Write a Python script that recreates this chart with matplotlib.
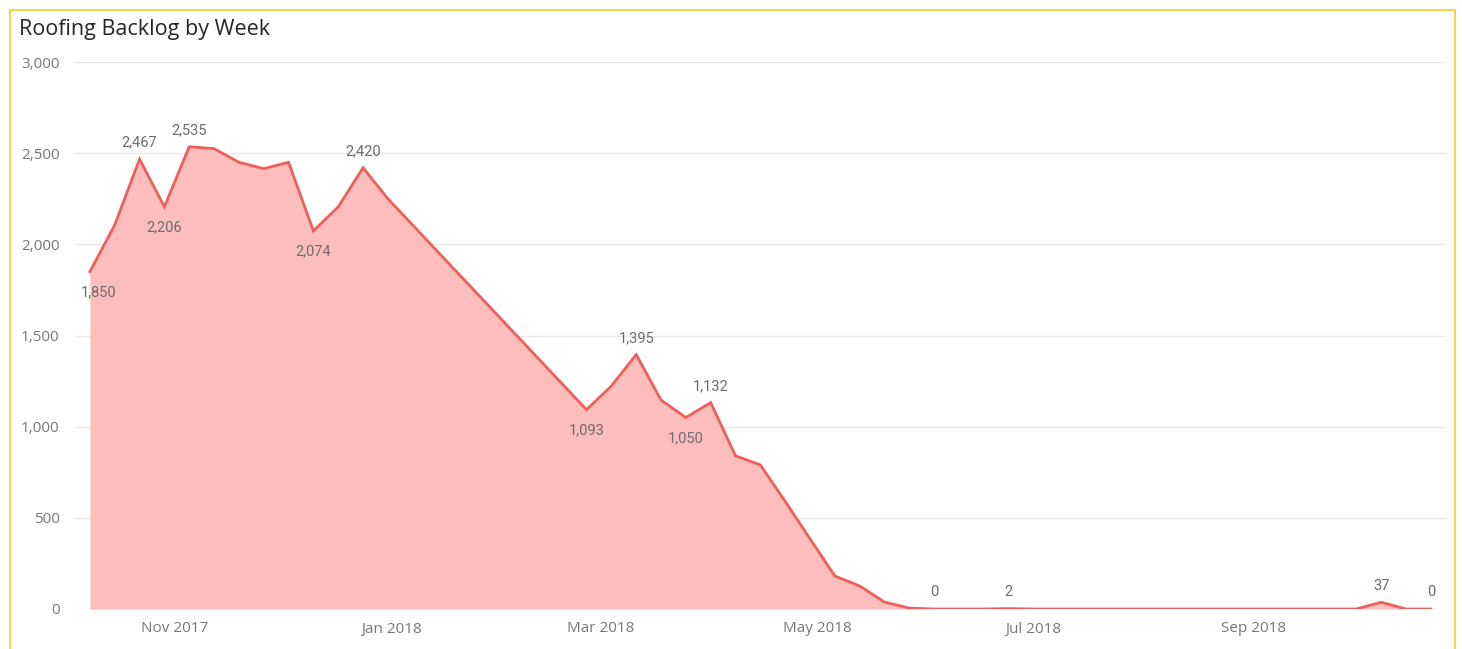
import numpy as np
import pandas as pd
import matplotlib
matplotlib.use("Agg")
from matplotlib import pyplot as plt
import matplotlib.dates as mdates
from matplotlib.patches import Rectangle

# weekly backlog, weeks starting Sunday 2017-10-08 (None = no data for that week)
first_week = "2017-10-08"
backlog = [1850, 2106, 2467, 2206, 2535, 2525, 2450, 2415, 2450, 2074,
           2205, 2420, 2250, None, None, None, None, None, None, None,
           1093, 1223, 1395, 1146, 1050, 1132, 840, 790, 590, 385,
           181, 126, 38, 5, 0, 0, 0, 2, 0, 0,
           0, 0, 0, 0, 0, 0, 0, 0, 0, 0,
           0, 0, 37, 0, 0]
# weeks whose value is printed, and whether the label sits above or below
labelled = {0: "below", 2: "above", 3: "below", 4: "above", 9: "below",
            11: "above", 20: "below", 22: "above", 24: "below", 25: "above",
            34: "above", 37: "above", 52: "above", 54: "above"}
y_ticks = [0, 500, 1000, 1500, 2000, 2500, 3000]

weeks = pd.date_range(first_week, periods=len(backlog), freq="7D")
df = pd.DataFrame({"week": weeks, "backlog": backlog}).dropna()

line_col = "#EE5F5C"
fill_col = "#FDBDBD"
text_col = "#6B6B6B"

fig = plt.figure(figsize=(14.62, 6.49), dpi=100)
ax = fig.add_axes([75 / 1462, 40 / 649, 1370 / 1462, 547 / 649])

ax.fill_between(df["week"], df["backlog"].astype(float), 0, color=fill_col, lw=0)
ax.plot(df["week"], df["backlog"].astype(float), color=line_col, lw=2.0,
        solid_joinstyle="miter")

for i, pos in labelled.items():
    d = weeks[i]
    v = backlog[i]
    dx = 6 if i == 0 else 0
    if pos == "above":
        ax.annotate(f"{v:,}", (d, v), xytext=(dx, 7), textcoords="offset points",
                    ha="center", va="bottom", fontsize=10.5, color=text_col,
                    family="Roboto")
    else:
        ax.annotate(f"{v:,}", (d, v), xytext=(dx, -10), textcoords="offset points",
                    ha="center", va="top", fontsize=10.5, color=text_col,
                    family="Roboto")

ax.set_ylim(0, 3000)
ax.set_yticks(y_ticks)
ax.yaxis.set_major_formatter(matplotlib.ticker.FuncFormatter(lambda v, p: f"{int(v):,}"))
ax.set_xlim(weeks[0] - pd.Timedelta(days=4.2), weeks[-1] + pd.Timedelta(days=4))
ax.xaxis.set_major_locator(mdates.MonthLocator(bymonth=[1, 3, 5, 7, 9, 11]))
ax.xaxis.set_major_formatter(mdates.DateFormatter("%b %Y"))

ax.grid(axis="y", color="#E8E8E8", lw=1)
ax.set_axisbelow(True)
for s in ax.spines.values():
    s.set_visible(False)
ax.tick_params(length=0, labelsize=11, labelcolor="#777777")
ax.tick_params(axis="y", pad=11)
ax.tick_params(axis="x", pad=9)
for lab in ax.get_xticklabels() + ax.get_yticklabels():
    lab.set_family("Open Sans")

fig.text(19 / 1462, 1 - 29 / 649, "Roofing Backlog by Week", fontsize=15.5,
         color="#252525", family="Open Sans", va="center", ha="left")

# yellow visual border
fig.patches.append(Rectangle((10 / 1462, -0.1), 1445 / 1462, (649 - 10) / 649 + 0.1,
                             transform=fig.transFigure, fill=False,
                             edgecolor="#F3D54E", lw=1.5))

fig.savefig("out.png", dpi=100)
